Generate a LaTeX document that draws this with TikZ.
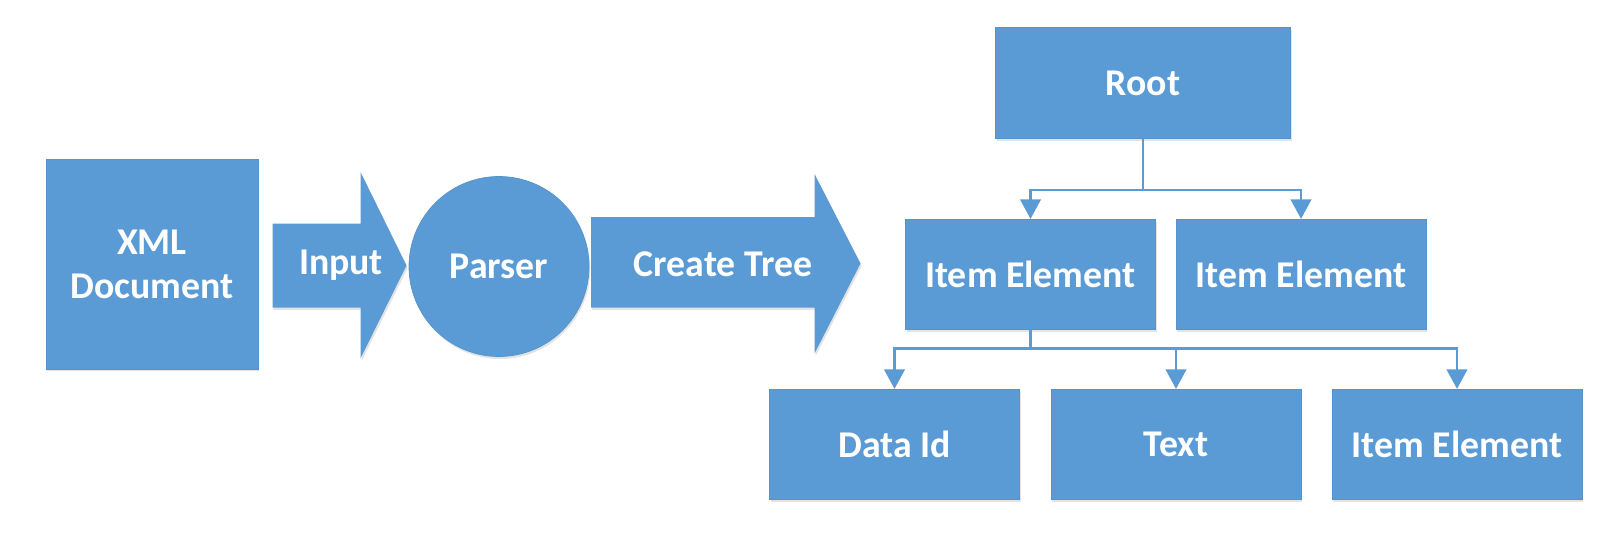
\documentclass[tikz,border=0pt]{standalone}
\usepackage{fontspec}
\setmainfont{Carlito}
\usepackage{xcolor}
\usetikzlibrary{shapes,arrows.meta,positioning,calc,shadows}
\definecolor{boxblue}{HTML}{5B9BD5}
\definecolor{edgeblue}{HTML}{5593CC}

\tikzset{
  softshadow/.style={drop shadow={opacity=0.22,shadow xshift=0.7pt,shadow yshift=-1.4pt}},
  blocktext/.style={text=white,font=\bfseries\fontsize{21.5}{25}\selectfont,align=center,inner sep=0pt},
  treebox/.style={blocktext,fill=boxblue,draw=edgeblue,line width=0.4pt,
    minimum width=5.0cm,minimum height=2.21cm,softshadow},
  link/.style={draw=boxblue,line width=1.4pt,-{Triangle[length=0.39cm,width=0.41cm]}}
}

\begin{document}
\begin{tikzpicture}
  \useasboundingbox (0,0) rectangle (32.12,-11.08);

  % Left: XML source
  \node[treebox,minimum width=4.24cm,minimum height=4.2cm] (xml) at (3.04,-5.28) {XML\\Document};

  % Input arrow
  \fill[boxblue,softshadow] (5.45,-4.47) -- (7.21,-4.47) -- (7.21,-3.44) -- (8.13,-5.31)
    -- (7.21,-7.17) -- (7.21,-6.15) -- (5.45,-6.15) -- cycle;
  \node[blocktext] (input) at (6.82,-5.31) {Input};

  % Center: parser
  \node[blocktext,circle,fill=boxblue,draw=edgeblue,line width=0.4pt,
    minimum size=3.6cm,softshadow] (parser) at (9.98,-5.33) {Parser};

  % Create Tree arrow
  \fill[boxblue,softshadow] (11.82,-4.34) -- (16.29,-4.34) -- (16.29,-3.48) -- (17.21,-5.27)
    -- (16.29,-7.07) -- (16.29,-6.15) -- (11.82,-6.15) -- cycle;
  \node[blocktext] (create) at (14.46,-5.29) {Create Tree};

  % Right: tree
  \node[treebox,minimum width=5.9cm,minimum height=2.22cm] (root) at (22.86,-1.66) {Root};
  \node[treebox] (item1) at (20.61,-5.49) {Item Element};
  \node[treebox] (item2) at (26.02,-5.49) {Item Element};
  \node[treebox] (dataid) at (17.89,-8.89) {Data Id};
  \node[treebox] (text) at (23.52,-8.89) {Text};
  \node[treebox] (item3) at (29.14,-8.89) {Item Element};

  % Connectors
  \draw[link] (root.south) -- ++(0,-1.02) -| (item1.north);
  \draw[link] (root.south) -- ++(0,-1.02) -| (item2.north);
  \draw[link] (item1.south) -- ++(0,-0.37) -| (dataid.north);
  \draw[link] (item1.south) -- ++(0,-0.37) -| (text.north);
  \draw[link] (item1.south) -- ++(0,-0.37) -| (item3.north);
\end{tikzpicture}
\end{document}
